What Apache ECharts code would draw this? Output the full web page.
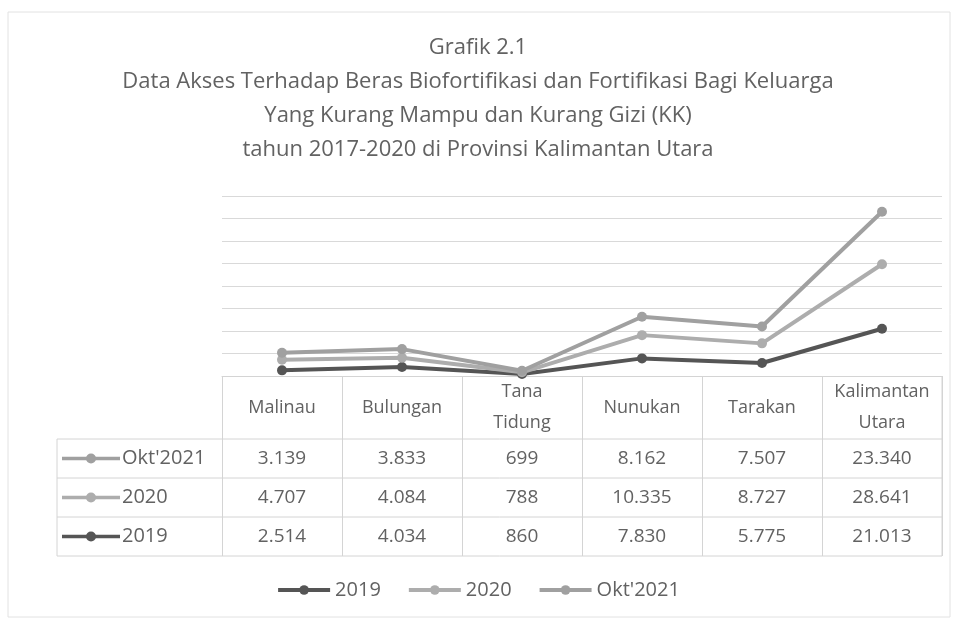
<!DOCTYPE html>
<html><head><meta charset="utf-8">
<script src="https://cdn.jsdelivr.net/npm/echarts@6/dist/echarts.min.js"></script>
<style>html,body{margin:0;padding:0;background:#fff}#c{width:956px;height:621px}</style>
</head><body><div id="c"></div>
<script>
const categories = ['Malinau','Bulungan','Tana\nTidung','Nunukan','Tarakan','Kalimantan\nUtara'];
const seriesNames = ['2019','2020',"Okt'2021"];
const v2019 = [2514,4034,860,7830,5775,21013];
const v2020 = [4707,4084,788,10335,8727,28641];
const vOkt  = [3139,3833,699,8162,7507,23340];
const titleLines = ['Grafik 2.1','Data Akses Terhadap Beras Biofortifikasi dan Fortifikasi Bagi Keluarga','Yang Kurang Mampu dan Kurang Gizi (KK)','tahun 2017-2020 di Provinsi Kalimantan Utara'];

const colors = {'2019':'#555555','2020':'#adadad',"Okt'2021":'#a0a0a0'};
const FONT = 'Open Sans';
const TXT = '#626262';
const fmt = v => v >= 1000 ? Math.floor(v/1000) + '.' + String(v%1000).padStart(3,'0') : String(v);
const tableRows = [["Okt'2021", vOkt], ['2020', v2020], ['2019', v2019]];

const chart = echarts.init(document.getElementById('c'));
const GRID = {left:222, right:14, top:196, bottom:245};
const HEADER_H = 63, ROW_H = 39;

const xAxes = [{
  type:'category', data:categories, position:'bottom', gridIndex:0,
  axisLine:{show:true, lineStyle:{color:'#d4d4d4', width:1}},
  axisTick:{show:true, length:HEADER_H + ROW_H*3, lineStyle:{color:'#d4d4d4'}},
  axisLabel:{color:TXT, fontFamily:FONT, fontSize:18, margin:HEADER_H/2, verticalAlign:'middle', lineHeight:31, interval:0}
}];
tableRows.forEach((r, i) => {
  xAxes.push({
    type:'category', data:r[1].map(fmt), position:'bottom', gridIndex:0,
    offset: HEADER_H + ROW_H*i + ROW_H/2,
    axisLine:{show:false}, axisTick:{show:false},
    axisLabel:{color:TXT, fontFamily:FONT, fontSize:19, margin:0, verticalAlign:'middle', interval:0}
  });
});

const series = [[seriesNames[0], v2019], [seriesNames[1], v2020], [seriesNames[2], vOkt]].map(([n, d]) => ({
  name:n, type:'line', stack:'total', data:d, symbol:'circle', symbolSize:10,
  lineStyle:{width:4, color:colors[n]}, itemStyle:{color:colors[n]}
}));

chart.setOption({
  animation:false,
  backgroundColor:'#fff',
  title:{text:titleLines.join('\n'), left:'center', top:26,
    textStyle:{fontFamily:FONT, fontSize:22, fontWeight:'normal', color:TXT, lineHeight:34}},
  grid:GRID,
  legend:{bottom:16, left:'center', itemWidth:52, itemHeight:12, itemGap:26,
    lineStyle:{width:4}, 
    data:seriesNames, textStyle:{fontFamily:FONT, fontSize:20, color:TXT}},
  xAxis:xAxes,
  yAxis:{type:'value', min:0, max:80000, interval:10000,
    axisLabel:{show:false}, axisLine:{show:false}, axisTick:{show:false},
    splitLine:{lineStyle:{color:'#d9d9d9', width:1}}},
  series:series
});

// table borders and row keys from the axis scale
const c0 = chart.convertToPixel({xAxisIndex:0}, 0);
const c1 = chart.convertToPixel({xAxisIndex:0}, 1);
const band = c1 - c0;
const xEnd = chart.convertToPixel({xAxisIndex:0}, categories.length-1) + band/2;
const y0 = chart.convertToPixel({yAxisIndex:0}, 0);
const labelLeft = 57;
const g = [];
const line = (x1,y1,x2,y2) => g.push({type:'line', shape:{x1,y1,x2,y2}, style:{stroke:'#d4d4d4', lineWidth:1}, silent:true});
for (let i=0;i<=3;i++){ const y = y0 + HEADER_H + ROW_H*i; line(labelLeft, y, xEnd, y); }
line(labelLeft, y0+HEADER_H, labelLeft, y0+HEADER_H+ROW_H*3);
line(xEnd, y0, xEnd, y0+HEADER_H+ROW_H*3);
tableRows.forEach((r,i)=>{
  const yc = y0 + HEADER_H + ROW_H*i + ROW_H/2;
  const col = colors[r[0]];
  g.push({type:'line', shape:{x1:labelLeft+5, y1:yc, x2:labelLeft+63, y2:yc}, style:{stroke:col, lineWidth:3.5}, silent:true});
  g.push({type:'circle', shape:{cx:labelLeft+34, cy:yc, r:5}, style:{fill:col}, silent:true});
  g.push({type:'text', x:labelLeft+65, y:yc, style:{text:r[0], fill:TXT, font:'20px "'+FONT+'"', verticalAlign:'middle', align:'left'}, silent:true});
});
g.push({type:'rect', shape:{x:8, y:12, width:942, height:605}, style:{fill:null, stroke:'#e2e2e2', lineWidth:1}, silent:true});
chart.setOption({graphic:g});
</script></body></html>
